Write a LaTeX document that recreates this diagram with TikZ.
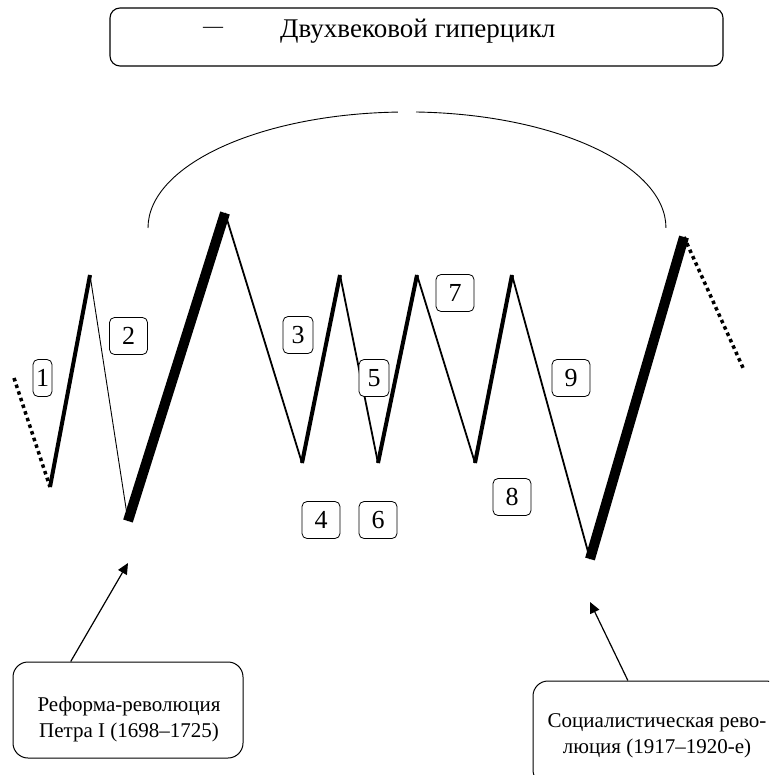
\documentclass[tikz,border=0pt]{standalone}
\usepackage{fontspec}
\setmainfont{Liberation Serif}
\usetikzlibrary{arrows.meta,calc}
\begin{document}
\begin{tikzpicture}[x=1pt,y=-1pt,
  numbox/.style={draw, line width=0.8pt, rounded corners=5pt, minimum width=38pt, minimum height=37pt, inner sep=0pt, font=\fontsize{26}{30}\selectfont},
  bigbox/.style={draw, line width=1pt, rounded corners=15pt, inner sep=0pt},
  bigtext/.style={align=center, inner sep=0pt, font=\fontsize{21}{26}\selectfont},
  thinseg/.style={line width=0.9pt},
  medseg/.style={line width=1.8pt},
  upseg/.style={line width=4pt},
  heavyseg/.style={line width=10pt},
  dotseg/.style={line width=3.5pt, dash pattern=on 3.5pt off 3.5pt},
  pointer/.style={line width=1.2pt, -{Triangle[length=11pt,width=10pt]}}
]
\clip (0,0) rectangle (769,775);
\fill[white] (0,0) rectangle (769,775);

% title box
\node[draw, line width=1.1pt, rounded corners=10pt, minimum width=613pt, minimum height=58pt, inner sep=0pt] (title) at (416.5,37) {};
\node[font=\fontsize{20}{24}\selectfont, inner sep=0pt] (dash) at (213,30) {—};
\node[font=\fontsize{27}{30}\selectfont, inner sep=0pt, anchor=base west] (titletext) at (280,38) {Двухвековой гиперцикл};

% arc
\draw[line width=0.9pt] (148,228) arc[start angle=180, end angle=92, x radius=259pt, y radius=116pt];
\draw[line width=0.9pt] (416,112) arc[start angle=88, end angle=0, x radius=259pt, y radius=116pt];

% zigzag points
\coordinate (p0) at (14,378);
\coordinate (p1) at (50,487);
\coordinate (p2) at (90,275);
\coordinate (p3) at (128,521);
\coordinate (p4) at (225,213);
\coordinate (p5) at (302,463);
\coordinate (p6) at (340,275);
\coordinate (p7) at (378,463);
\coordinate (p8) at (417,275);
\coordinate (p9) at (475,463);
\coordinate (p10) at (512,275);
\coordinate (p11) at (590,559);
\coordinate (p12) at (684,237);
\coordinate (p13) at (744,370);

\draw[dotseg] (p0) -- (p1);
\draw[upseg] (p1) -- (p2);
\draw[thinseg] (p2) -- (p3);
\draw[medseg] (p4) -- (p5);
\draw[heavyseg] (p3) -- (p4);
\draw[upseg] (p5) -- (p6);
\draw[medseg] (p6) -- (p7);
\draw[upseg] (p7) -- (p8);
\draw[medseg] (p8) -- (p9);
\draw[upseg] (p9) -- (p10);
\draw[medseg] (p10) -- (p11);
\draw[heavyseg] (p11) -- (p12);
\draw[dotseg] (p12) -- (p13);

% number labels
\node[numbox, minimum width=19pt] (n1) at (42.5,378) {1};
\node[numbox] (n2) at (128.5,336) {2};
\node[numbox, minimum width=30pt] (n3) at (298,335) {3};
\node[numbox, fill=white, minimum width=30pt] (n5) at (374,378) {5};
\node[numbox] (n7) at (455,293) {7};
\node[numbox] (n9) at (571,378) {9};
\node[numbox] (n4) at (321,520) {4};
\node[numbox] (n6) at (378,520) {6};
\node[numbox] (n8) at (512,497) {8};

% bottom boxes
\node[bigbox, minimum width=230pt, minimum height=96pt] (petr) at (128,710) {};
\node[bigtext] (petrtext) at (129,719) {Реформа-революция\\Петра I (1698–1725)};
\node[bigbox, minimum width=248pt, minimum height=104pt] (soc) at (657,733) {};
\node[bigtext] (soctext) at (657,736) {Социалистическая рево-\\люция (1917–1920-е)};

% pointers
\coordinate (t1) at (128,563);
\coordinate (t2) at (590,602);
\draw[pointer] ($(petr.north west)!0.252!(petr.north east)$) -- (t1);
\draw[pointer] ($(soc.north west)!0.383!(soc.north east)$) -- (t2);
\end{tikzpicture}
\end{document}
